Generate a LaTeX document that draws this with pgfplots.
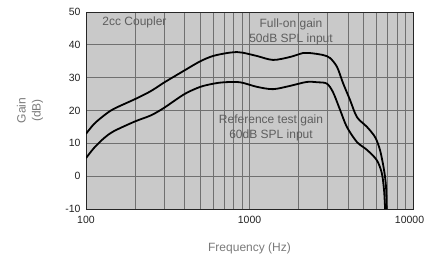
\documentclass[border=0pt]{standalone}
\usepackage{fontspec}
\setmainfont{Liberation Sans}
\usepackage{pgfplots}
\pgfplotsset{compat=1.18}
\definecolor{bgc}{HTML}{C9C9C9}
\definecolor{gridc}{HTML}{707070}
\definecolor{annc}{HTML}{5E5E5E}
\definecolor{labc}{HTML}{7A7A7A}
\definecolor{tickc}{HTML}{222222}
\begin{document}
\begin{tikzpicture}
\useasboundingbox (-86bp,-51bp) rectangle (338bp,209bp);
\begin{axis}[
  name=ax,
  scale only axis,
  width=327bp, height=197bp,
  xmode=log,
  xmin=100, xmax=10000,
  ymin=-10, ymax=50,
  ytick={-10,0,10,20,30,40,50},
  xtick={100,1000,10000},
  xticklabels={100,1000,\kern-7bp 10000},
  minor xtick={200,300,400,500,600,700,800,900,2000,3000,4000,5000,6000,7000,8000,9000},
  grid=both,
  major grid style={gridc, line width=0.7bp},
  minor grid style={gridc, line width=0.7bp},
  major tick length=0pt, minor tick length=0pt,
  axis background/.style={fill=bgc},
  axis line style={draw=black!85, line width=1bp},
  /pgf/number format/assume math mode=true,
  ticklabel style={font=\fontsize{10.5bp}{12bp}\selectfont, text=tickc},
  xticklabel style={yshift=-4bp},
  yticklabel style={xshift=-2bp},
]
\addplot[black, line width=1.8bp, smooth, tension=0.5] coordinates {
(100,12.9) (112,15.9) (129,18.5) (148,20.5) (200,23.5) (249,25.9) (300,28.5)
(400,32.2) (500,35.0) (598,36.6) (728,37.5) (839,37.8) (912,37.6) (1112,36.6) (1393,35.4)
(1770,36.3) (2124,37.5) (2344,37.5) (2817,36.9) (3105,36.0) (3429,33.3)
(3730,28.4) (4120,23.2) (4540,18.0) (5230,15.0) (5860,11.9) (6280,8.0)
(6650,1.9) (6840,-3.3) (6900,-10)
};
\addplot[black, line width=1.8bp, smooth, tension=0.5] coordinates {
(100,5.5) (112,8.6) (129,11.6) (148,13.7) (200,16.7) (249,18.5) (300,20.8)
(400,25.0) (500,27.2) (606,28.2) (700,28.6) (875,28.6) (1112,27.2) (1393,26.5) (1770,27.5)
(2240,28.7) (2600,28.6) (2970,28.2) (3240,25.6) (3580,20.2) (3940,15.0)
(4540,10.4) (5230,8.0) (6000,4.9) (6440,1.0) (6650,-4.2) (6750,-10)
};
\node[anchor=west, text=annc, font=\fontsize{12bp}{14bp}\selectfont] at (axis cs:120,46.7) {2cc Coupler};
\node[align=center, text=annc, font=\fontsize{12bp}{15bp}\selectfont] at (axis cs:1794,43.8) {Full-on gain\\50dB SPL input};
\node[align=center, text=annc, inner sep=1bp, font=\fontsize{12bp}{15bp}\selectfont] at (axis cs:1354,14.7) {Reference test gain\\60dB SPL input};
\end{axis}
\node[rotate=90, align=center, text=labc, font=\fontsize{12bp}{15bp}\selectfont] at ([xshift=-56bp]ax.west) {Gain\\(dB)};
\node[text=labc, font=\fontsize{12bp}{14bp}\selectfont] at ([yshift=-39bp]ax.south) {Frequency (Hz)};
\end{tikzpicture}
\end{document}
